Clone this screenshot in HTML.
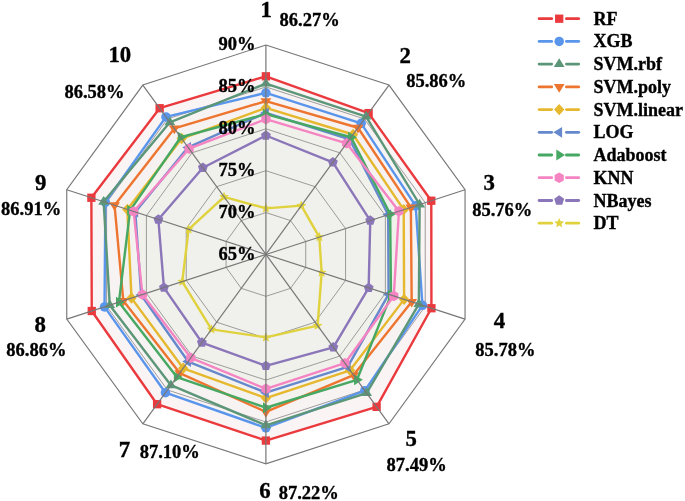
<!DOCTYPE html>
<html><head><meta charset="utf-8"><title>Radar</title>
<style>
html,body{margin:0;padding:0;background:#fff;}
body{width:685px;height:501px;position:relative;overflow:hidden;}
text{font-family:"Liberation Serif","DejaVu Serif",serif;font-weight:bold;fill:#000;stroke:#000;stroke-width:0.35px;}
.lg{font-size:18px;}
.tk{font-size:18.5px;}
.num{font-size:22.8px;}
.pc{font-size:18.5px;}
</style></head><body>
<svg width="685" height="501" viewBox="0 0 685 501" style="position:absolute;left:0;top:0">
<rect width="685" height="501" fill="#fff"/>
<polygon points="265.90,76.29 368.60,113.10 431.28,200.72 431.43,308.24 376.62,406.85 265.90,440.56 157.10,404.21 91.76,311.03 91.36,197.74 159.66,108.22" fill="#faf4f5" stroke="none"/>
<polygon points="265.90,92.79 361.17,123.33 415.66,205.79 422.43,305.31 364.86,390.65 265.90,427.83 165.46,392.69 104.51,306.89 105.38,202.30 165.96,116.89" fill="#f8f3f3" stroke="none"/>
<polygon points="265.90,83.58 366.09,116.55 419.64,204.50 418.85,304.15 366.58,393.03 265.90,425.32 170.88,385.23 109.77,305.18 103.63,201.73 169.90,122.31" fill="#f8f3f3" stroke="none"/>
<polygon points="265.90,101.17 357.97,127.73 410.88,207.34 411.68,301.82 353.53,375.07 265.90,411.92 179.74,373.04 123.31,300.78 114.55,205.27 174.33,128.41" fill="#f6f2f1" stroke="none"/>
<polygon points="265.90,107.87 353.04,134.51 403.71,209.67 404.11,299.36 350.09,370.33 265.90,398.10 183.19,368.29 131.51,298.12 127.29,209.41 181.71,138.57" fill="#f5f2ef" stroke="none"/>
<polygon points="265.90,114.15 351.07,137.22 390.17,214.07 390.97,295.09 356.98,379.81 265.90,407.73 176.79,377.10 118.93,302.20 130.08,210.32 180.73,137.22" fill="#f4f2ee" stroke="none"/>
<polygon points="265.90,112.90 349.60,139.25 388.18,214.72 388.58,294.31 347.63,366.94 265.90,392.65 188.11,361.52 141.23,294.96 135.26,212.00 188.11,147.38" fill="#f2f1ed" stroke="none"/>
<polygon points="265.90,119.18 346.64,143.32 398.93,211.22 393.76,295.99 344.92,363.21 265.90,388.88 190.82,357.79 142.43,294.57 133.66,211.48 189.10,148.74" fill="#f1f1ec" stroke="none"/>
<polygon points="265.90,135.51 332.86,162.29 370.26,220.54 368.66,287.84 333.35,347.29 265.90,365.85 201.90,342.54 163.93,287.58 158.36,219.51 202.88,167.71" fill="#f0f0ec" stroke="none"/>
<polygon points="265.90,208.38 301.35,205.66 319.27,237.11 321.66,272.57 317.59,325.60 265.90,337.37 211.50,329.33 182.26,281.63 188.63,229.34 224.05,196.85" fill="#f0f0ec" stroke="none"/>
<polygon points="265.90,212.57 290.52,220.57 305.73,241.51 305.73,267.39 290.52,288.33 265.90,296.33 241.28,288.33 226.07,267.39 226.07,241.51 241.28,220.57" fill="none" stroke="#858585" stroke-width="0.8"/>
<polygon points="265.90,170.69 315.13,186.69 345.56,228.57 345.56,280.33 315.13,322.21 265.90,338.21 216.67,322.21 186.24,280.33 186.24,228.57 216.67,186.69" fill="none" stroke="#858585" stroke-width="0.8"/>
<polygon points="265.90,128.81 339.75,152.81 385.39,215.63 385.39,293.27 339.75,356.09 265.90,380.09 192.05,356.09 146.41,293.27 146.41,215.63 192.05,152.81" fill="none" stroke="#858585" stroke-width="0.8"/>
<polygon points="265.90,86.93 364.37,118.92 425.22,202.68 425.22,306.22 364.37,389.98 265.90,421.97 167.43,389.98 106.58,306.22 106.58,202.68 167.43,118.92" fill="none" stroke="#858585" stroke-width="0.8"/>
<polygon points="265.90,45.05 388.98,85.04 465.05,189.74 465.05,319.16 388.98,423.86 265.90,463.85 142.82,423.86 66.75,319.16 66.75,189.74 142.82,85.04" fill="none" stroke="#787878" stroke-width="1.15"/>
<polygon points="265.90,76.29 368.60,113.10 431.28,200.72 431.43,308.24 376.62,406.85 265.90,440.56 157.10,404.21 91.76,311.03 91.36,197.74 159.66,108.22" fill="none" stroke="#ea3a3e" stroke-width="2.4" stroke-linejoin="round"/>
<rect x="261.75" y="72.14" width="8.30" height="8.30" fill="#ea3a3e"/>
<rect x="364.45" y="108.95" width="8.30" height="8.30" fill="#ea3a3e"/>
<rect x="427.13" y="196.57" width="8.30" height="8.30" fill="#ea3a3e"/>
<rect x="427.28" y="304.09" width="8.30" height="8.30" fill="#ea3a3e"/>
<rect x="372.47" y="402.70" width="8.30" height="8.30" fill="#ea3a3e"/>
<rect x="261.75" y="436.41" width="8.30" height="8.30" fill="#ea3a3e"/>
<rect x="152.95" y="400.06" width="8.30" height="8.30" fill="#ea3a3e"/>
<rect x="87.61" y="306.88" width="8.30" height="8.30" fill="#ea3a3e"/>
<rect x="87.21" y="193.59" width="8.30" height="8.30" fill="#ea3a3e"/>
<rect x="155.51" y="104.07" width="8.30" height="8.30" fill="#ea3a3e"/>
<polygon points="265.90,92.79 361.17,123.33 415.66,205.79 422.43,305.31 364.86,390.65 265.90,427.83 165.46,392.69 104.51,306.89 105.38,202.30 165.96,116.89" fill="none" stroke="#5a95ec" stroke-width="2.4" stroke-linejoin="round"/>
<circle cx="265.90" cy="92.79" r="4.75" fill="#5a95ec"/>
<circle cx="361.17" cy="123.33" r="4.75" fill="#5a95ec"/>
<circle cx="415.66" cy="205.79" r="4.75" fill="#5a95ec"/>
<circle cx="422.43" cy="305.31" r="4.75" fill="#5a95ec"/>
<circle cx="364.86" cy="390.65" r="4.75" fill="#5a95ec"/>
<circle cx="265.90" cy="427.83" r="4.75" fill="#5a95ec"/>
<circle cx="165.46" cy="392.69" r="4.75" fill="#5a95ec"/>
<circle cx="104.51" cy="306.89" r="4.75" fill="#5a95ec"/>
<circle cx="105.38" cy="202.30" r="4.75" fill="#5a95ec"/>
<circle cx="165.96" cy="116.89" r="4.75" fill="#5a95ec"/>
<polygon points="265.90,83.58 366.09,116.55 419.64,204.50 418.85,304.15 366.58,393.03 265.90,425.32 170.88,385.23 109.77,305.18 103.63,201.73 169.90,122.31" fill="none" stroke="#5c9678" stroke-width="2.4" stroke-linejoin="round"/>
<polygon points="265.90,77.78 271.30,86.48 260.50,86.48" fill="#5c9678"/>
<polygon points="366.09,110.75 371.49,119.45 360.69,119.45" fill="#5c9678"/>
<polygon points="419.64,198.70 425.04,207.40 414.24,207.40" fill="#5c9678"/>
<polygon points="418.85,298.35 424.25,307.05 413.45,307.05" fill="#5c9678"/>
<polygon points="366.58,387.23 371.98,395.93 361.18,395.93" fill="#5c9678"/>
<polygon points="265.90,419.52 271.30,428.22 260.50,428.22" fill="#5c9678"/>
<polygon points="170.88,379.43 176.28,388.13 165.48,388.13" fill="#5c9678"/>
<polygon points="109.77,299.38 115.17,308.08 104.37,308.08" fill="#5c9678"/>
<polygon points="103.63,195.93 109.03,204.63 98.23,204.63" fill="#5c9678"/>
<polygon points="169.90,116.51 175.30,125.21 164.50,125.21" fill="#5c9678"/>
<polygon points="265.90,101.17 357.97,127.73 410.88,207.34 411.68,301.82 353.53,375.07 265.90,411.92 179.74,373.04 123.31,300.78 114.55,205.27 174.33,128.41" fill="none" stroke="#ee752f" stroke-width="2.4" stroke-linejoin="round"/>
<polygon points="265.90,106.97 271.30,98.27 260.50,98.27" fill="#ee752f"/>
<polygon points="357.97,133.53 363.37,124.83 352.57,124.83" fill="#ee752f"/>
<polygon points="410.88,213.14 416.28,204.44 405.48,204.44" fill="#ee752f"/>
<polygon points="411.68,307.62 417.08,298.92 406.28,298.92" fill="#ee752f"/>
<polygon points="353.53,380.87 358.93,372.17 348.13,372.17" fill="#ee752f"/>
<polygon points="265.90,417.72 271.30,409.02 260.50,409.02" fill="#ee752f"/>
<polygon points="179.74,378.84 185.14,370.14 174.34,370.14" fill="#ee752f"/>
<polygon points="123.31,306.58 128.71,297.88 117.91,297.88" fill="#ee752f"/>
<polygon points="114.55,211.07 119.95,202.37 109.15,202.37" fill="#ee752f"/>
<polygon points="174.33,134.21 179.73,125.51 168.93,125.51" fill="#ee752f"/>
<polygon points="265.90,107.87 353.04,134.51 403.71,209.67 404.11,299.36 350.09,370.33 265.90,398.10 183.19,368.29 131.51,298.12 127.29,209.41 181.71,138.57" fill="none" stroke="#e6b82e" stroke-width="2.4" stroke-linejoin="round"/>
<polygon points="265.90,102.17 271.10,107.87 265.90,113.57 260.70,107.87" fill="#e6b82e"/>
<polygon points="353.04,128.81 358.24,134.51 353.04,140.21 347.84,134.51" fill="#e6b82e"/>
<polygon points="403.71,203.97 408.91,209.67 403.71,215.37 398.51,209.67" fill="#e6b82e"/>
<polygon points="404.11,293.66 409.31,299.36 404.11,305.06 398.91,299.36" fill="#e6b82e"/>
<polygon points="350.09,364.63 355.29,370.33 350.09,376.03 344.89,370.33" fill="#e6b82e"/>
<polygon points="265.90,392.40 271.10,398.10 265.90,403.80 260.70,398.10" fill="#e6b82e"/>
<polygon points="183.19,362.59 188.39,368.29 183.19,373.99 177.99,368.29" fill="#e6b82e"/>
<polygon points="131.51,292.42 136.71,298.12 131.51,303.82 126.31,298.12" fill="#e6b82e"/>
<polygon points="127.29,203.71 132.49,209.41 127.29,215.11 122.09,209.41" fill="#e6b82e"/>
<polygon points="181.71,132.87 186.91,138.57 181.71,144.27 176.51,138.57" fill="#e6b82e"/>
<polygon points="265.90,112.90 349.60,139.25 388.18,214.72 388.58,294.31 347.63,366.94 265.90,392.65 188.11,361.52 141.23,294.96 135.26,212.00 188.11,147.38" fill="none" stroke="#6688cc" stroke-width="2.4" stroke-linejoin="round"/>
<polygon points="260.10,112.90 268.80,107.50 268.80,118.30" fill="#6688cc"/>
<polygon points="343.80,139.25 352.50,133.85 352.50,144.65" fill="#6688cc"/>
<polygon points="382.38,214.72 391.08,209.32 391.08,220.12" fill="#6688cc"/>
<polygon points="382.78,294.31 391.48,288.91 391.48,299.71" fill="#6688cc"/>
<polygon points="341.83,366.94 350.53,361.54 350.53,372.34" fill="#6688cc"/>
<polygon points="260.10,392.65 268.80,387.25 268.80,398.05" fill="#6688cc"/>
<polygon points="182.31,361.52 191.01,356.12 191.01,366.92" fill="#6688cc"/>
<polygon points="135.43,294.96 144.13,289.56 144.13,300.36" fill="#6688cc"/>
<polygon points="129.46,212.00 138.16,206.60 138.16,217.40" fill="#6688cc"/>
<polygon points="182.31,147.38 191.01,141.98 191.01,152.78" fill="#6688cc"/>
<polygon points="265.90,114.15 351.07,137.22 390.17,214.07 390.97,295.09 356.98,379.81 265.90,407.73 176.79,377.10 118.93,302.20 130.08,210.32 180.73,137.22" fill="none" stroke="#46a862" stroke-width="2.4" stroke-linejoin="round"/>
<polygon points="271.70,114.15 263.00,108.75 263.00,119.55" fill="#46a862"/>
<polygon points="356.87,137.22 348.17,131.82 348.17,142.62" fill="#46a862"/>
<polygon points="395.97,214.07 387.27,208.67 387.27,219.47" fill="#46a862"/>
<polygon points="396.77,295.09 388.07,289.69 388.07,300.49" fill="#46a862"/>
<polygon points="362.78,379.81 354.08,374.41 354.08,385.21" fill="#46a862"/>
<polygon points="271.70,407.73 263.00,402.33 263.00,413.13" fill="#46a862"/>
<polygon points="182.59,377.10 173.89,371.70 173.89,382.50" fill="#46a862"/>
<polygon points="124.73,302.20 116.03,296.80 116.03,307.60" fill="#46a862"/>
<polygon points="135.88,210.32 127.18,204.92 127.18,215.72" fill="#46a862"/>
<polygon points="186.53,137.22 177.83,131.82 177.83,142.62" fill="#46a862"/>
<polygon points="265.90,119.18 346.64,143.32 398.93,211.22 393.76,295.99 344.92,363.21 265.90,388.88 190.82,357.79 142.43,294.57 133.66,211.48 189.10,148.74" fill="none" stroke="#f584c2" stroke-width="2.4" stroke-linejoin="round"/>
<polygon points="265.90,113.88 270.49,116.53 270.49,121.83 265.90,124.48 261.31,121.83 261.31,116.53" fill="#f584c2"/>
<polygon points="346.64,138.02 351.23,140.67 351.23,145.97 346.64,148.62 342.05,145.97 342.05,140.67" fill="#f584c2"/>
<polygon points="398.93,205.92 403.52,208.57 403.52,213.87 398.93,216.52 394.34,213.87 394.34,208.57" fill="#f584c2"/>
<polygon points="393.76,290.69 398.35,293.34 398.35,298.64 393.76,301.29 389.17,298.64 389.17,293.34" fill="#f584c2"/>
<polygon points="344.92,357.91 349.51,360.56 349.51,365.86 344.92,368.51 340.33,365.86 340.33,360.56" fill="#f584c2"/>
<polygon points="265.90,383.58 270.49,386.23 270.49,391.53 265.90,394.18 261.31,391.53 261.31,386.23" fill="#f584c2"/>
<polygon points="190.82,352.49 195.41,355.14 195.41,360.44 190.82,363.09 186.23,360.44 186.23,355.14" fill="#f584c2"/>
<polygon points="142.43,289.27 147.02,291.92 147.02,297.22 142.43,299.87 137.84,297.22 137.84,291.92" fill="#f584c2"/>
<polygon points="133.66,206.18 138.25,208.83 138.25,214.13 133.66,216.78 129.07,214.13 129.07,208.83" fill="#f584c2"/>
<polygon points="189.10,143.44 193.69,146.09 193.69,151.39 189.10,154.04 184.51,151.39 184.51,146.09" fill="#f584c2"/>
<polygon points="265.90,135.51 332.86,162.29 370.26,220.54 368.66,287.84 333.35,347.29 265.90,365.85 201.90,342.54 163.93,287.58 158.36,219.51 202.88,167.71" fill="none" stroke="#8a76b8" stroke-width="2.4" stroke-linejoin="round"/>
<polygon points="265.90,130.31 270.85,133.90 268.96,139.72 262.84,139.72 260.95,133.90" fill="#8a76b8"/>
<polygon points="332.86,157.09 337.80,160.69 335.91,166.50 329.80,166.50 327.91,160.69" fill="#8a76b8"/>
<polygon points="370.26,215.34 375.20,218.94 373.31,224.75 367.20,224.75 365.31,218.94" fill="#8a76b8"/>
<polygon points="368.66,282.64 373.61,286.23 371.72,292.05 365.61,292.05 363.72,286.23" fill="#8a76b8"/>
<polygon points="333.35,342.09 338.29,345.68 336.41,351.49 330.29,351.49 328.40,345.68" fill="#8a76b8"/>
<polygon points="265.90,360.65 270.85,364.24 268.96,370.06 262.84,370.06 260.95,364.24" fill="#8a76b8"/>
<polygon points="201.90,337.34 206.84,340.94 204.95,346.75 198.84,346.75 196.95,340.94" fill="#8a76b8"/>
<polygon points="163.93,282.38 168.88,285.97 166.99,291.79 160.88,291.79 158.99,285.97" fill="#8a76b8"/>
<polygon points="158.36,214.31 163.30,217.90 161.41,223.71 155.30,223.71 153.41,217.90" fill="#8a76b8"/>
<polygon points="202.88,162.51 207.83,166.11 205.94,171.92 199.83,171.92 197.94,166.11" fill="#8a76b8"/>
<polygon points="265.90,208.38 301.35,205.66 319.27,237.11 321.66,272.57 317.59,325.60 265.90,337.37 211.50,329.33 182.26,281.63 188.63,229.34 224.05,196.85" fill="none" stroke="#e0d23c" stroke-width="2.4" stroke-linejoin="round"/>
<polygon points="265.90,203.18 267.31,206.44 270.85,206.78 268.18,209.12 268.96,212.59 265.90,210.78 262.84,212.59 263.62,209.12 260.95,206.78 264.49,206.44" fill="#e0d23c"/>
<polygon points="301.35,200.46 302.76,203.72 306.29,204.05 303.63,206.40 304.40,209.87 301.35,208.06 298.29,209.87 299.07,206.40 296.40,204.05 299.94,203.72" fill="#e0d23c"/>
<polygon points="319.27,231.91 320.68,235.17 324.22,235.50 321.56,237.85 322.33,241.32 319.27,239.51 316.22,241.32 316.99,237.85 314.33,235.50 317.86,235.17" fill="#e0d23c"/>
<polygon points="321.66,267.37 323.07,270.63 326.61,270.96 323.94,273.31 324.72,276.78 321.66,274.97 318.61,276.78 319.38,273.31 316.72,270.96 320.25,270.63" fill="#e0d23c"/>
<polygon points="317.59,320.40 319.01,323.66 322.54,323.99 319.88,326.34 320.65,329.81 317.59,328.00 314.54,329.81 315.31,326.34 312.65,323.99 316.18,323.66" fill="#e0d23c"/>
<polygon points="265.90,332.17 267.31,335.43 270.85,335.77 268.18,338.11 268.96,341.58 265.90,339.77 262.84,341.58 263.62,338.11 260.95,335.77 264.49,335.43" fill="#e0d23c"/>
<polygon points="211.50,324.13 212.91,327.39 216.44,327.72 213.78,330.07 214.55,333.54 211.50,331.73 208.44,333.54 209.22,330.07 206.55,327.72 210.09,327.39" fill="#e0d23c"/>
<polygon points="182.26,276.43 183.67,279.69 187.20,280.02 184.54,282.37 185.31,285.83 182.26,284.03 179.20,285.83 179.97,282.37 177.31,280.02 180.85,279.69" fill="#e0d23c"/>
<polygon points="188.63,224.14 190.04,227.40 193.57,227.74 190.91,230.08 191.69,233.55 188.63,231.74 185.57,233.55 186.35,230.08 183.68,227.74 187.22,227.40" fill="#e0d23c"/>
<polygon points="224.05,191.65 225.46,194.91 229.00,195.24 226.33,197.59 227.11,201.06 224.05,199.25 221.00,201.06 221.77,197.59 219.11,195.24 222.64,194.91" fill="#e0d23c"/>
<line x1="265.90" y1="254.45" x2="265.90" y2="45.05" stroke="#777" stroke-width="1.2"/>
<line x1="265.90" y1="254.45" x2="388.98" y2="85.04" stroke="#777" stroke-width="1.2"/>
<line x1="265.90" y1="254.45" x2="465.05" y2="189.74" stroke="#777" stroke-width="1.2"/>
<line x1="265.90" y1="254.45" x2="465.05" y2="319.16" stroke="#777" stroke-width="1.2"/>
<line x1="265.90" y1="254.45" x2="388.98" y2="423.86" stroke="#777" stroke-width="1.2"/>
<line x1="265.90" y1="254.45" x2="265.90" y2="463.85" stroke="#777" stroke-width="1.2"/>
<line x1="265.90" y1="254.45" x2="142.82" y2="423.86" stroke="#777" stroke-width="1.2"/>
<line x1="265.90" y1="254.45" x2="66.75" y2="319.16" stroke="#777" stroke-width="1.2"/>
<line x1="265.90" y1="254.45" x2="66.75" y2="189.74" stroke="#777" stroke-width="1.2"/>
<line x1="265.90" y1="254.45" x2="142.82" y2="85.04" stroke="#777" stroke-width="1.2"/>
<line x1="539.1" y1="18.7" x2="551.7" y2="18.7" stroke="#ea3a3e" stroke-width="2.8" stroke-linecap="round"/>
<line x1="566.4" y1="18.7" x2="578.7" y2="18.7" stroke="#ea3a3e" stroke-width="2.8" stroke-linecap="round"/>
<rect x="555.05" y="14.55" width="8.30" height="8.30" fill="#ea3a3e"/>
<text x="593.6" y="24.7" class="lg">RF</text>
<line x1="539.1" y1="41.4" x2="551.7" y2="41.4" stroke="#5a95ec" stroke-width="2.8" stroke-linecap="round"/>
<line x1="566.4" y1="41.4" x2="578.7" y2="41.4" stroke="#5a95ec" stroke-width="2.8" stroke-linecap="round"/>
<circle cx="559.20" cy="41.42" r="4.75" fill="#5a95ec"/>
<text x="593.6" y="47.4" class="lg">XGB</text>
<line x1="539.1" y1="64.1" x2="551.7" y2="64.1" stroke="#5c9678" stroke-width="2.8" stroke-linecap="round"/>
<line x1="566.4" y1="64.1" x2="578.7" y2="64.1" stroke="#5c9678" stroke-width="2.8" stroke-linecap="round"/>
<polygon points="559.20,58.34 564.60,67.04 553.80,67.04" fill="#5c9678"/>
<text x="593.6" y="70.1" class="lg">SVM.rbf</text>
<line x1="539.1" y1="86.9" x2="551.7" y2="86.9" stroke="#ee752f" stroke-width="2.8" stroke-linecap="round"/>
<line x1="566.4" y1="86.9" x2="578.7" y2="86.9" stroke="#ee752f" stroke-width="2.8" stroke-linecap="round"/>
<polygon points="559.20,92.66 564.60,83.96 553.80,83.96" fill="#ee752f"/>
<text x="593.6" y="92.9" class="lg">SVM.poly</text>
<line x1="539.1" y1="109.6" x2="551.7" y2="109.6" stroke="#e6b82e" stroke-width="2.8" stroke-linecap="round"/>
<line x1="566.4" y1="109.6" x2="578.7" y2="109.6" stroke="#e6b82e" stroke-width="2.8" stroke-linecap="round"/>
<polygon points="559.20,103.88 564.40,109.58 559.20,115.28 554.00,109.58" fill="#e6b82e"/>
<text x="593.6" y="115.6" class="lg">SVM.linear</text>
<line x1="539.1" y1="132.3" x2="551.7" y2="132.3" stroke="#6688cc" stroke-width="2.8" stroke-linecap="round"/>
<line x1="566.4" y1="132.3" x2="578.7" y2="132.3" stroke="#6688cc" stroke-width="2.8" stroke-linecap="round"/>
<polygon points="553.40,132.30 562.10,126.90 562.10,137.70" fill="#6688cc"/>
<text x="593.6" y="138.3" class="lg">LOG</text>
<line x1="539.1" y1="155.0" x2="551.7" y2="155.0" stroke="#46a862" stroke-width="2.8" stroke-linecap="round"/>
<line x1="566.4" y1="155.0" x2="578.7" y2="155.0" stroke="#46a862" stroke-width="2.8" stroke-linecap="round"/>
<polygon points="565.00,155.02 556.30,149.62 556.30,160.42" fill="#46a862"/>
<text x="593.6" y="161.0" class="lg">Adaboost</text>
<line x1="539.1" y1="177.7" x2="551.7" y2="177.7" stroke="#f584c2" stroke-width="2.8" stroke-linecap="round"/>
<line x1="566.4" y1="177.7" x2="578.7" y2="177.7" stroke="#f584c2" stroke-width="2.8" stroke-linecap="round"/>
<polygon points="559.20,172.44 563.79,175.09 563.79,180.39 559.20,183.04 554.61,180.39 554.61,175.09" fill="#f584c2"/>
<text x="593.6" y="183.7" class="lg">KNN</text>
<line x1="539.1" y1="200.5" x2="551.7" y2="200.5" stroke="#8a76b8" stroke-width="2.8" stroke-linecap="round"/>
<line x1="566.4" y1="200.5" x2="578.7" y2="200.5" stroke="#8a76b8" stroke-width="2.8" stroke-linecap="round"/>
<polygon points="559.20,195.26 564.15,198.85 562.26,204.67 556.14,204.67 554.25,198.85" fill="#8a76b8"/>
<text x="593.6" y="206.5" class="lg">NBayes</text>
<line x1="539.1" y1="223.2" x2="551.7" y2="223.2" stroke="#e0d23c" stroke-width="2.8" stroke-linecap="round"/>
<line x1="566.4" y1="223.2" x2="578.7" y2="223.2" stroke="#e0d23c" stroke-width="2.8" stroke-linecap="round"/>
<polygon points="559.20,217.98 560.61,221.24 564.15,221.57 561.48,223.92 562.26,227.39 559.20,225.58 556.14,227.39 556.92,223.92 554.25,221.57 557.79,221.24" fill="#e0d23c"/>
<text x="593.6" y="229.2" class="lg">DT</text>
<text x="255.5" y="50.4" class="tk" text-anchor="end">90%</text>
<text x="255.5" y="92.3" class="tk" text-anchor="end">85%</text>
<text x="255.5" y="134.2" class="tk" text-anchor="end">80%</text>
<text x="255.5" y="176.0" class="tk" text-anchor="end">75%</text>
<text x="255.5" y="217.9" class="tk" text-anchor="end">70%</text>
<text x="255.5" y="259.8" class="tk" text-anchor="end">65%</text>
<text x="260.6" y="16.8" class="num">1</text>
<text x="279.5" y="25.6" class="pc">86.27%</text>
<text x="399.4" y="63.0" class="num">2</text>
<text x="406.2" y="87.0" class="pc">85.86%</text>
<text x="483.6" y="190.0" class="num">3</text>
<text x="472.2" y="216.0" class="pc">85.76%</text>
<text x="493.7" y="327.6" class="num">4</text>
<text x="475.3" y="355.6" class="pc">85.78%</text>
<text x="405.5" y="446.3" class="num">5</text>
<text x="386.6" y="471.0" class="pc">87.49%</text>
<text x="259.3" y="498.4" class="num">6</text>
<text x="278.7" y="499.3" class="pc">87.22%</text>
<text x="118.8" y="456.8" class="num">7</text>
<text x="139.7" y="458.0" class="pc">87.10%</text>
<text x="34.6" y="331.9" class="num">8</text>
<text x="6.3" y="356.0" class="pc">86.86%</text>
<text x="35.0" y="190.2" class="num">9</text>
<text x="1.1" y="215.3" class="pc">86.91%</text>
<text x="108.4" y="62.3" class="num">10</text>
<text x="64.4" y="97.6" class="pc">86.58%</text>
</svg>
</body></html>
